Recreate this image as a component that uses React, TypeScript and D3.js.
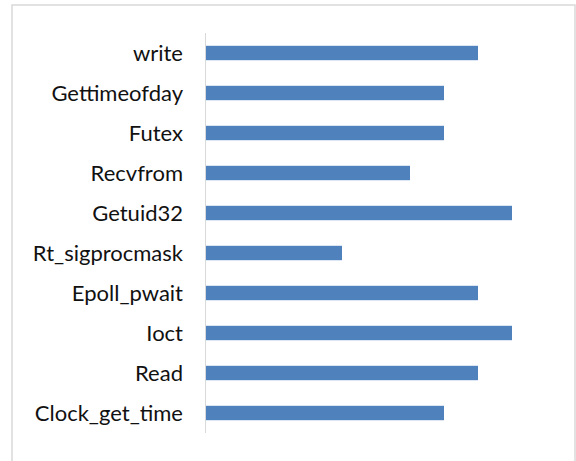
import React from "react";
import * as d3 from "d3";

const categories = [
  "write",
  "Gettimeofday",
  "Futex",
  "Recvfrom",
  "Getuid32",
  "Rt_sigprocmask",
  "Epoll_pwait",
  "Ioct",
  "Read",
  "Clock_get_time",
];
const values = [8, 7, 7, 6, 9, 4, 8, 9, 8, 7];

const W = 576;
const H = 461;

export default function App() {
  const x = d3.scaleLinear().domain([0, 10]).range([206, 546]);
  const y = d3
    .scaleBand<string>()
    .domain(categories)
    .range([33, 433])
    .paddingInner(0.64)
    .paddingOuter(0.32);
  return (
    <svg
      width={W}
      height={H}
      style={{ position: "absolute", left: 0, top: 0 }}
      fontFamily="Lato, sans-serif"
    >
      <rect x={0} y={0} width={W} height={H} fill="#fff" />
      <rect
        x={12}
        y={5}
        width={563}
        height={470}
        fill="none"
        stroke="#d9d9d9"
        strokeWidth={1.5}
      />
      {categories.map((c, i) => (
        <rect
          key={c}
          x={x(0)}
          y={y(c)!}
          width={x(values[i]) - x(0)}
          height={y.bandwidth()}
          fill="#4f81bd"
        />
      ))}
      <line x1={205.5} x2={205.5} y1={33} y2={433} stroke="#d9d9d9" strokeWidth={1} />
      {categories.map((c) => (
        <text
          key={c}
          x={183}
          y={y(c)! + y.bandwidth() / 2}
          dy="0.35em"
          textAnchor="end"
          fontSize={22}
          fill="#111"
        >
          {c}
        </text>
      ))}
    </svg>
  );
}
